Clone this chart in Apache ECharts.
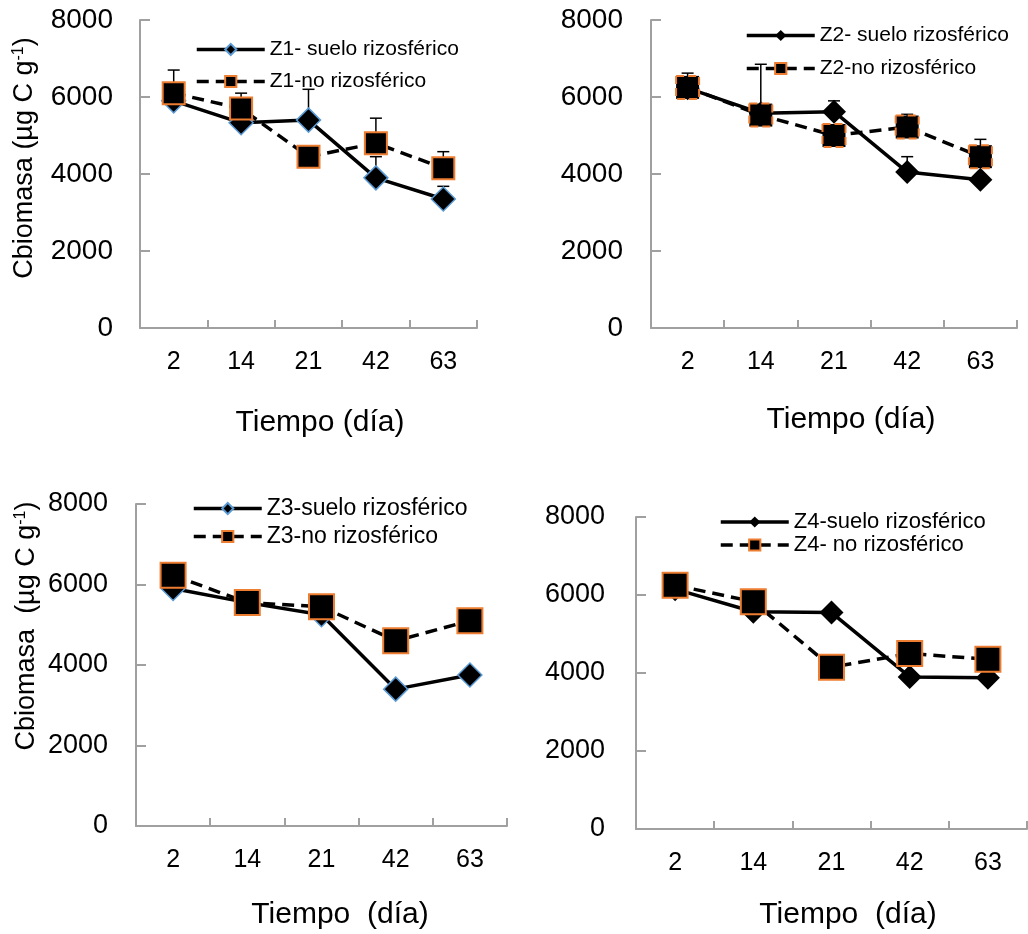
<!DOCTYPE html>
<html><head><meta charset="utf-8">
<script src="https://cdn.jsdelivr.net/npm/echarts@6/dist/echarts.min.js"></script>
<style>html,body{margin:0;padding:0;background:#fff}#c{width:1028px;height:934px}</style>
</head><body><div id="c"></div>
<script>
const days = ['2', '14', '21', '42', '63'];
const yTicks = [0, 2000, 4000, 6000, 8000];

const z1Suelo = [5900, 5330, 5400, 3900, 3350];
const z1No    = [6100, 5700, 4450, 4800, 4150];
const z1SueloUp = [null, null, 6200, 4450, 3680];
const z1NoUp    = [6700, 6100, null, 5450, 4580];

const z2Suelo = [6230, 5580, 5620, 4050, 3850];
const z2No    = [6250, 5530, 5000, 5220, 4450];
const z2SueloUp = [null, null, 5900, 4450, null];
const z2NoUp    = [6620, 6850, null, 5550, 4900];

const z3Suelo = [5900, 5550, 5250, 3400, 3750];
const z3No    = [6230, 5550, 5450, 4600, 5100];

const z4Suelo = [6150, 5570, 5550, 3900, 3880];
const z4No    = [6250, 5830, 4150, 4500, 4350];

const names = [
  ['Z1- suelo rizosférico', 'Z1-no rizosférico'],
  ['Z2- suelo rizosférico', 'Z2-no rizosférico'],
  ['Z3-suelo rizosférico', 'Z3-no rizosférico'],
  ['Z4-suelo rizosférico', 'Z4- no rizosférico']
];

const FONT = '"Liberation Sans", Arial, sans-serif';
const AXIS_GRAY = '#a0a0a0';
const BLUE = '#5b9bd5';
const ORANGE = '#ed7d31';

const grids = [
  {left: 140, top: 20, width: 337, height: 308},
  {left: 651, top: 20, width: 366, height: 308},
  {left: 136, top: 504, width: 371, height: 322},
  {left: 636, top: 517, width: 391, height: 312}
];
const yLabelMargin = [27, 28, 28, 31];
const yLabelSize = [28, 28, 27, 27];

const xAxes = grids.map((g, i) => ({
  type: 'category', gridIndex: i, data: days, boundaryGap: true,
  axisLine: {lineStyle: {color: AXIS_GRAY, width: 2}},
  axisTick: {show: true, inside: true, length: 8, lineStyle: {color: AXIS_GRAY, width: 2}},
  axisLabel: {color: '#000', fontSize: 25, fontFamily: FONT, margin: 22},
  splitLine: {show: false}
}));
const yAxes = grids.map((g, i) => ({
  type: 'value', gridIndex: i, min: yTicks[0], max: yTicks[yTicks.length - 1], interval: 2000,
  axisLine: {show: true, lineStyle: {color: AXIS_GRAY, width: 2}},
  axisTick: {show: true, inside: true, length: 10, lineStyle: {color: AXIS_GRAY, width: 2}},
  axisLabel: {color: '#000', fontSize: yLabelSize[i], fontFamily: FONT, margin: yLabelMargin[i],
    formatter: function (v) { return String(v); }},
  splitLine: {show: false}
}));

function errSeries(idx, vals, ups) {
  const data = [];
  vals.forEach((v, i) => { if (ups[i] != null) data.push([i, v, ups[i]]); });
  return {
    type: 'custom', xAxisIndex: idx, yAxisIndex: idx, z: 1, silent: true,
    encode: {x: 0, y: [1, 2]},
    data: data,
    renderItem: function (params, api) {
      const p = api.coord([api.value(0), api.value(1)]);
      const q = api.coord([api.value(0), api.value(2)]);
      const w = 6;
      return {type: 'group', children: [
        {type: 'line', shape: {x1: p[0], y1: p[1], x2: q[0], y2: q[1]}, style: {stroke: '#000', lineWidth: 1.5}},
        {type: 'line', shape: {x1: q[0] - w, y1: q[1], x2: q[0] + w, y2: q[1]}, style: {stroke: '#000', lineWidth: 1.5}}
      ]};
    }
  };
}

function sueloSeries(idx, vals, bordered) {
  return {
    name: names[idx][0], type: 'line', xAxisIndex: idx, yAxisIndex: idx, z: 3,
    data: vals, symbol: 'diamond', symbolSize: 24,
    lineStyle: {color: '#000', width: 3.5},
    itemStyle: bordered ? {color: '#000', borderColor: BLUE, borderWidth: 1.5} : {color: '#000', borderWidth: 0}
  };
}
function noSeries(idx, vals, dashedBorder, size) {
  return {
    name: names[idx][1], type: 'line', xAxisIndex: idx, yAxisIndex: idx, z: 4,
    data: vals, symbol: 'rect', symbolSize: size,
    lineStyle: {color: '#000', width: 3.5, type: [12, 7]},
    itemStyle: {color: '#000', borderColor: ORANGE, borderWidth: 2, borderType: dashedBorder ? 'dashed' : 'solid'}
  };
}

const series = [
  errSeries(0, z1Suelo, z1SueloUp), errSeries(0, z1No, z1NoUp),
  sueloSeries(0, z1Suelo, true), noSeries(0, z1No, false, 22),
  errSeries(1, z2Suelo, z2SueloUp), errSeries(1, z2No, z2NoUp),
  sueloSeries(1, z2Suelo, false), noSeries(1, z2No, true, 23),
  sueloSeries(2, z3Suelo, true), noSeries(2, z3No, false, 25),
  sueloSeries(3, z4Suelo, false), noSeries(3, z4No, false, 25)
];

const legendPos = [
  {left: 190, top: 34, gap: 11, fs: 21},
  {left: 740, top: 20, gap: 12, fs: 21},
  {left: 187, top: 492, gap: 5, fs: 23},
  {left: 714, top: 506, gap: 1, fs: 22}
];
const legends = legendPos.map((p, i) => ({
  data: names[i], orient: 'vertical', left: p.left, top: p.top, itemGap: p.gap,
  itemWidth: 68, itemHeight: 14, selectedMode: false,
  lineStyle: {width: 3.5},
  textStyle: {color: '#000', fontSize: p.fs, fontFamily: FONT}
}));

function yTitle(x, y, spaced) {
  return {
    type: 'text', x: x, y: y, rotation: Math.PI / 2,
    style: {
      text: spaced ? '{a|Cbiomasa  (µg C g}{b|-1}{a|)}' : '{a|Cbiomasa (µg C g}{b|-1}{a|)}',
      textAlign: 'center', textVerticalAlign: 'middle', fill: '#000',
      rich: {
        a: {fontSize: 27, fontFamily: FONT, fill: '#000'},
        b: {fontSize: 16, fontFamily: FONT, fill: '#000', padding: [0, 0, 12, 0]}
      }
    }
  };
}
function xTitle(x, y, text) {
  return {
    type: 'text', x: x, y: y,
    style: {text: text, font: '30px ' + FONT, fill: '#000', textAlign: 'center', textVerticalAlign: 'middle'}
  };
}

const option = {
  backgroundColor: '#fff',
  animation: false,
  grid: grids,
  xAxis: xAxes,
  yAxis: yAxes,
  legend: legends,
  series: series,
  graphic: [
    yTitle(25, 158, false),
    yTitle(27, 626, true),
    xTitle(320, 423, 'Tiempo (día)'),
    xTitle(851, 420, 'Tiempo (día)'),
    xTitle(340, 915, 'Tiempo  (día)'),
    xTitle(848, 915, 'Tiempo  (día)')
  ]
};

const chart = echarts.init(document.getElementById('c'), null, {renderer: 'canvas'});
chart.setOption(option);
</script>
</body></html>
